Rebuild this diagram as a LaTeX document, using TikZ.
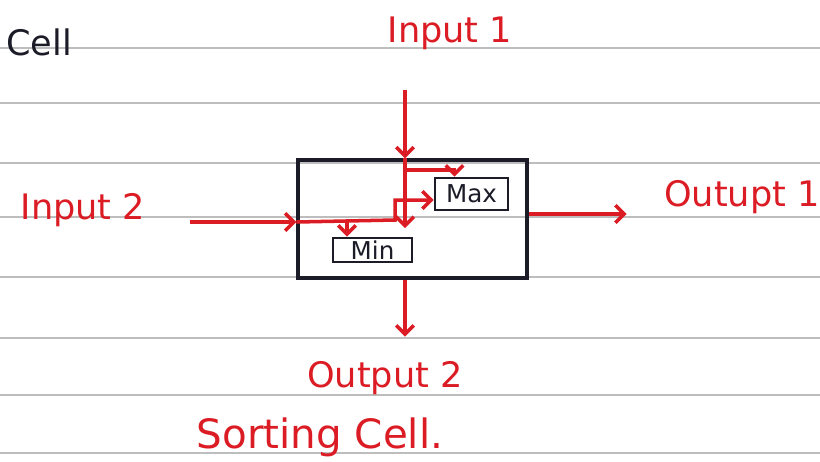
\documentclass[tikz,border=0pt]{standalone}
\usepackage{fontspec}
\setmainfont{DejaVu Sans}
\usetikzlibrary{arrows.meta,positioning,calc}
\definecolor{inkred}{HTML}{DC1C24}
\definecolor{inkblack}{HTML}{1C1C28}
\definecolor{ruling}{HTML}{BDBDBD}
\tikzset{
  cellbox/.style={
    rectangle, draw=inkblack, line width=1.9pt,
    minimum width=4.58cm, minimum height=2.36cm, inner sep=0pt
  },
  tagbox/.style={
    rectangle, draw=inkblack, line width=1.6pt,
    font=\fontsize{14}{16}\selectfont, text=inkblack, inner sep=1pt
  },
  wire/.style={
    -{Straight Barb[length=5pt,width=10pt]}, line width=2pt, color=inkred
  },
  labelnode/.style={
    font=\fontsize{20}{24}\selectfont, text=inkred
  },
  ruleline/.style={ruling, line width=0.6pt},
}
\begin{document}
\begin{tikzpicture}[x=0.02cm, y=-0.02cm]
\useasboundingbox (0,0) rectangle (820,461);
\fill[white] (0,0) rectangle (820,461);
% notebook ruling
\foreach \ry in {48,103,163,217,277,338,395,453}
  \draw[ruleline] (0,\ry) -- (820,\ry);

% cell and its parts
\node[cellbox] (cell) at (412.5,219) {};
\node[tagbox, minimum width=1.46cm, minimum height=0.64cm] (max) at (471.5,194) {Max};
\node[tagbox, minimum width=1.58cm, minimum height=0.48cm] (min) at (372.5,250) {Min};

% labels
\node[labelnode] (in1) at (450,33) {Input 1};
\node[labelnode] (in2) at (83,210) {Input 2};
\node[labelnode, anchor=west] (out1) at (658,197) {Outupt 1};
\node[labelnode] (out2) at (385,378) {Output 2};
\node[labelnode, font=\fontsize{23}{27}\selectfont] (title) at (320,437) {Sorting Cell.};
\node[labelnode, text=inkblack, anchor=west] (head) at (0,42) {Cell};

\coordinate (in1-top) at (405,90);
\coordinate (in1-end) at (405,228);
\coordinate (in2-start) at (190,222);
\coordinate (split-max) at (405,170);
\coordinate (split-min) at (347,221);
\coordinate (turn) at (395,220);

% input 1
\draw[wire] (in1-top) -- (in1-top |- cell.north);
\draw[wire] (in1-top |- cell.north) -- (in1-end);
\draw[wire] (split-max) -| ([xshift=-0.34cm]max.north);
% input 2
\draw[wire] (in2-start) -- (in2-start -| cell.west);
\draw[wire] (in2-start -| cell.west) -- (turn) |- ([yshift=-0.12cm]max.west);
\draw[wire] (split-min) -- (split-min |- min.north);
% outputs
\draw[wire] ([yshift=0.1cm]cell.east) -- ++(98,0);
\draw[wire] (in1-top |- cell.south) -- ++(0,57);
\end{tikzpicture}
\end{document}
